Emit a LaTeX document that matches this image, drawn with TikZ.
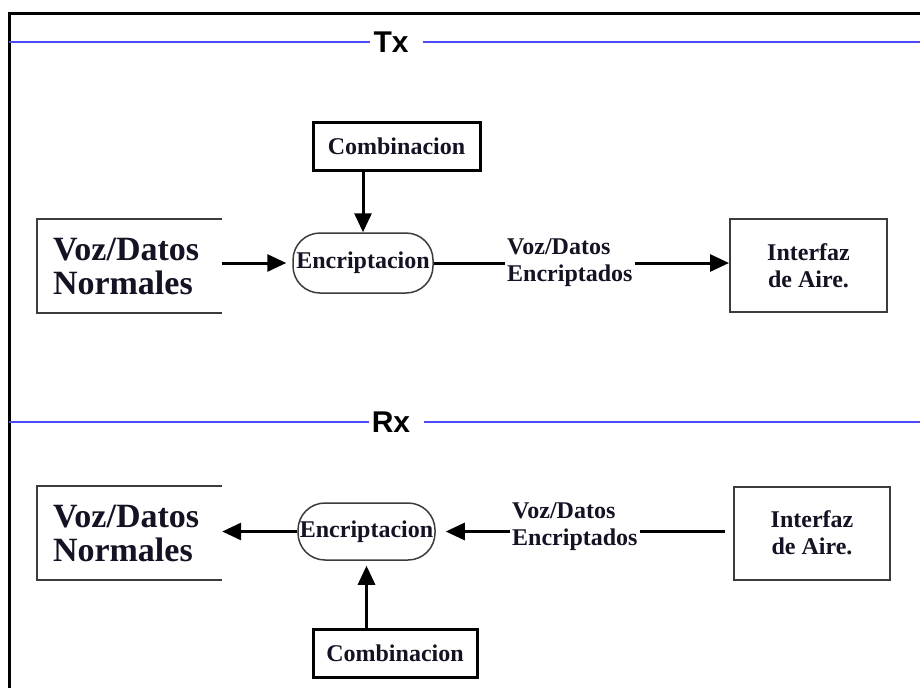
\documentclass[tikz,border=0pt]{standalone}
\usepackage{fontspec}
\setmainfont{Liberation Serif}
\newfontfamily\headfont{Liberation Sans}
\usetikzlibrary{arrows.meta}
\definecolor{rulecol}{RGB}{75,75,250}
\definecolor{edgecol}{RGB}{60,60,60}
\definecolor{inkcol}{RGB}{20,18,35}
\begin{document}
\begin{tikzpicture}[x=1pt,y=-1pt,
  lbl/.style={font=\fontsize{24}{27}\selectfont\bfseries, text=inkcol},
  section/.style={font=\headfont\fontsize{30}{30}\selectfont\bfseries, inner sep=0pt},
  openbox/.style={font=\fontsize{34}{34}\selectfont\bfseries, text=inkcol,
    minimum width=185, minimum height=93, inner xsep=16, text width=153, align=left},
  airbox/.style={lbl, draw=edgecol, line width=2, minimum height=93, align=center},
  keybox/.style={lbl, draw=black, line width=3, minimum height=48},
  cipher/.style={lbl, draw=edgecol, line width=1.5, rounded corners=27,
    inner xsep=0pt},
  flowlbl/.style={lbl, align=left, inner sep=2pt, anchor=west},
  arr/.style={line width=3, -{Triangle[length=19pt,width=17pt]}},
  link/.style={line width=3}
]
\useasboundingbox (0,0) rectangle (920,688);
\fill[white] (0,0) rectangle (920,688);

% outer frame (top and left edges)
\draw[line width=3] (920,13) -- (9,13) -- (9,688);

% ---------- Tx section ----------
\node[section] (tx) at (391,42) {Tx};
\coordinate (txL) at (9,42);
\coordinate (txR) at (920,42);
\draw[rulecol, line width=2.5] (txL) -- ([xshift=-3]tx.west);
\draw[rulecol, line width=2.5] ([xshift=14]tx.east) -- (txR);

\node[keybox, minimum width=167] (comb1) at (396.5,146) {Combinacion};
\node[cipher, minimum width=140, minimum height=60] (enc1) at (363,263) {Encriptacion};
\node[openbox] (vdn1) at (129.5,266) {Voz/Datos\\Normales};
\draw[edgecol, line width=2] (vdn1.north east) -- (vdn1.north west) -- (vdn1.south west) -- (vdn1.south east);
\node[flowlbl] (lab1) at (505,263) {Voz/Datos\\Encriptados};
\node[airbox, minimum width=157] (ifz1) at (808.5,265.5) {Interfaz\\de Aire.};

\draw[arr] (comb1.south -| enc1.north) -- (enc1.north);
\draw[arr, shorten >=6pt] (vdn1.east |- enc1) -- (enc1.west);
\draw[link] (enc1.east) -- (lab1.west);
\draw[arr] (lab1.east) -- (lab1.east -| ifz1.west);

% ---------- Rx section ----------
\node[section] (rx) at (391,422) {Rx};
\coordinate (rxL) at (9,422);
\coordinate (rxR) at (920,422);
\draw[rulecol, line width=2.5] (rxL) -- ([xshift=-3]rx.west);
\draw[rulecol, line width=2.5] ([xshift=14]rx.east) -- (rxR);

\node[openbox] (vdn2) at (129.5,533) {Voz/Datos\\Normales};
\draw[edgecol, line width=2] (vdn2.north east) -- (vdn2.north west) -- (vdn2.south west) -- (vdn2.south east);
\node[cipher, minimum width=137, minimum height=57] (enc2) at (366.5,531.5) {Encriptacion};
\node[flowlbl] (lab2) at (510,527) {Voz/Datos\\Encriptados};
\node[airbox, minimum width=156] (ifz2) at (812,533) {Interfaz\\de Aire.};
\node[keybox, minimum width=164] (comb2) at (395,653) {Combinacion};

\draw[arr] (enc2.west) -- (enc2.west -| vdn2.east);
\draw[arr, shorten >=10pt] (lab2.west |- enc2) -- (enc2.east);
\draw[link] (lab2.east |- enc2) -- ([xshift=-8]ifz2.west |- enc2);
\draw[arr, shorten >=5pt] (comb2.north -| enc2.south) -- (enc2.south);
\end{tikzpicture}
\end{document}
